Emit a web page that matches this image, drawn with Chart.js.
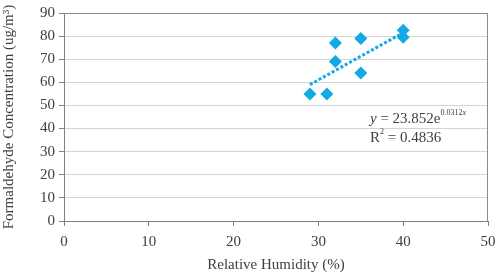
<!DOCTYPE html>
<html>
<head>
<meta charset="utf-8">
<script src="https://cdn.jsdelivr.net/npm/chart.js@4"></script>
<style>
  html, body { margin: 0; padding: 0; background: #fff; }
  #wrap { width: 498px; height: 278px; position: relative; }
</style>
</head>
<body>
<div id="wrap"><canvas id="chart"></canvas></div>
<script>
// measured points
const humidity = [29, 31, 32, 32, 35, 35, 40, 40];
const formaldehyde = [55, 55, 77, 69, 79, 64, 82.5, 79.5];
// exponential trendline ends
const trendX = [29, 40];
const trendY = [59, 81.5];
const xTicks = [0, 10, 20, 30, 40, 50];
const yTicks = [0, 10, 20, 30, 40, 50, 60, 70, 80, 90];

const blue = '#12a9e6';
const textGray = '#404040';
const serif = '"Liberation Serif", "DejaVu Serif", serif';

// frame + regression equation
const extras = {
    id: 'extras',
    afterDraw(chart) {
        const ctx = chart.ctx;
        const a = chart.chartArea;
        ctx.save();
        ctx.strokeStyle = '#8c8c8c';
        ctx.lineWidth = 1;
        ctx.beginPath();
        ctx.moveTo(a.left, a.top + 0.5);
        ctx.lineTo(a.right - 0.5, a.top + 0.5);
        ctx.lineTo(a.right - 0.5, a.bottom);
        ctx.stroke();

        ctx.fillStyle = textGray;
        ctx.textBaseline = 'alphabetic';
        let x = a.left + 306;
        let y = a.top + 110;
        ctx.font = 'italic 15px ' + serif;
        ctx.fillText('y', x, y);
        x += ctx.measureText('y').width;
        ctx.font = '15px ' + serif;
        const main = ' = 23.852e';
        ctx.fillText(main, x, y);
        x += ctx.measureText(main).width;
        ctx.font = '8px ' + serif;
        ctx.fillText('0.0312', x, y - 8);
        x += ctx.measureText('0.0312').width;
        ctx.font = 'italic 8px ' + serif;
        ctx.fillText('x', x, y - 8);

        x = a.left + 306;
        y = a.top + 129;
        ctx.font = '15px ' + serif;
        ctx.fillText('R', x, y);
        x += ctx.measureText('R').width;
        ctx.font = '8px ' + serif;
        ctx.fillText('2', x, y - 8);
        x += ctx.measureText('2').width;
        ctx.font = '15px ' + serif;
        ctx.fillText(' = 0.4836', x, y);
        ctx.restore();
    }
};

new Chart(document.getElementById('chart'), {
    type: 'scatter',
    data: {
        datasets: [{
            label: 'Formaldehyde',
            data: humidity.map((h, i) => ({ x: h, y: formaldehyde[i] })),
            pointStyle: 'rectRot',
            pointRadius: 6.5,
            pointHoverRadius: 6.5,
            backgroundColor: blue,
            borderColor: blue,
            borderWidth: 0,
            order: 1
        }, {
            label: 'Trend',
            type: 'line',
            data: trendX.map((h, i) => ({ x: h, y: trendY[i] })),
            borderColor: blue,
            borderWidth: 3,
            borderDash: [3, 2],
            pointRadius: 0,
            fill: false,
            order: 2
        }]
    },
    options: {
        responsive: true,
        maintainAspectRatio: false,
        animation: false,
        layout: { padding: { top: 13, right: 10, left: 0, bottom: 0 } },
        plugins: {
            legend: { display: false },
            tooltip: { enabled: false }
        },
        scales: {
            x: {
                type: 'linear',
                min: 0,
                max: 50,
                afterBuildTicks: s => { s.ticks = xTicks.map(v => ({ value: v })); },
                afterFit: s => { s.height = 57; s.paddingRight = 0; },
                border: { color: '#808080' },
                grid: { drawOnChartArea: false, drawTicks: true, tickLength: 5, tickColor: '#808080' },
                ticks: { color: textGray, font: { family: serif, size: 15 }, padding: 7, maxRotation: 0 },
                title: { display: true, text: 'Relative Humidity (%)', color: textGray, font: { family: serif, size: 15 }, padding: { top: 3 } }
            },
            y: {
                min: 0,
                max: 90,
                afterBuildTicks: s => { s.ticks = yTicks.map(v => ({ value: v })); },
                afterFit: s => { s.width = 64; },
                border: { color: '#808080' },
                grid: { color: '#d4d4d4', drawTicks: true, tickLength: 5, tickColor: '#808080' },
                ticks: { color: textGray, font: { family: serif, size: 15 }, padding: 4 },
                title: { display: true, text: 'Formaldehyde Concentration (ug/m³)', color: textGray, font: { family: serif, size: 15 }, padding: { top: 0, bottom: 3 } }
            }
        }
    },
    plugins: [extras]
});
</script>
</body>
</html>
